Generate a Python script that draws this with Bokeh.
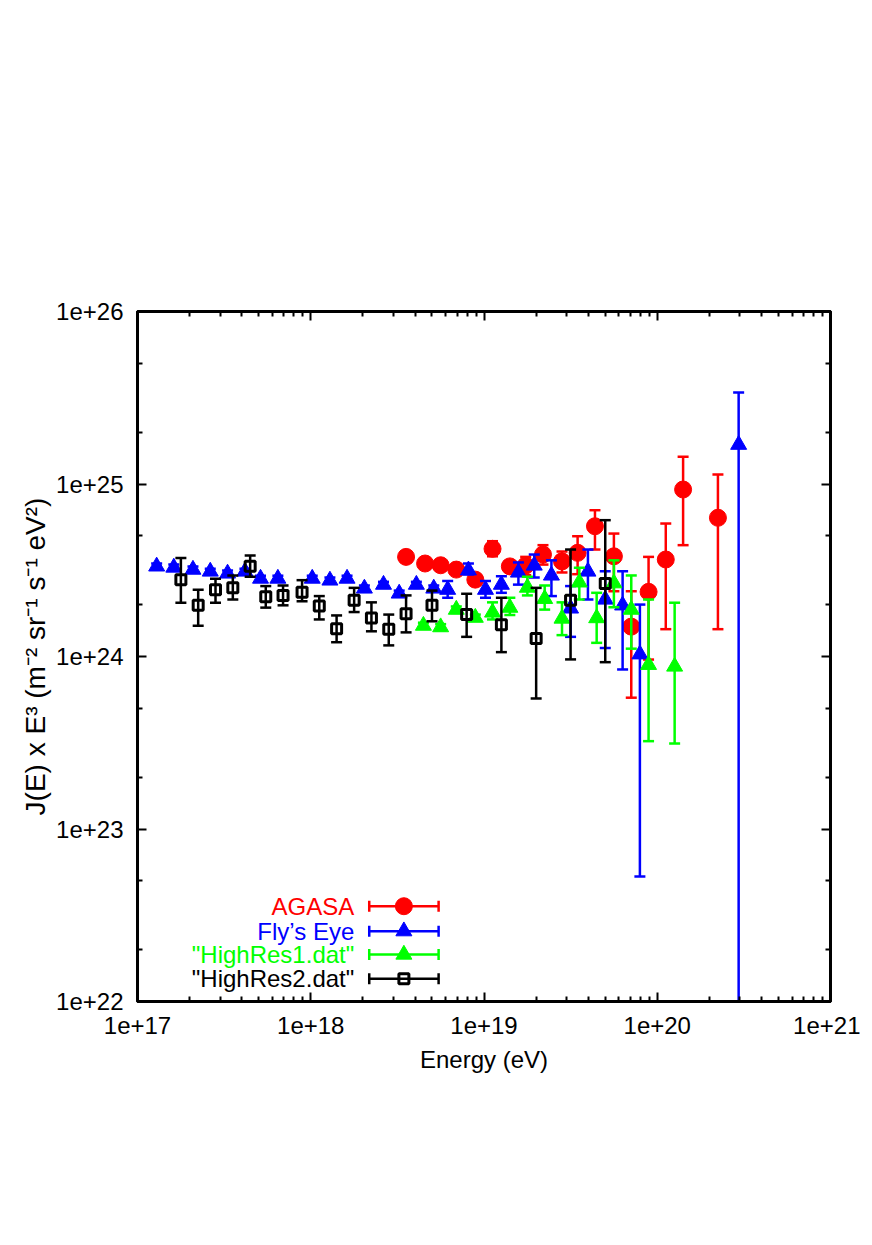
import math
from bokeh.plotting import figure
from bokeh.models import LogAxis, FixedTicker, CustomJSTickFormatter, Range1d, ColumnDataSource
from bokeh.core.properties import value
from bokeh.embed import file_html
from bokeh.resources import INLINE

# ---------------- data ----------------
agasa_E = [3.55e18, 4.57e18, 5.62e18, 6.92e18, 8.91e18, 1.12e19, 1.41e19, 1.74e19, 2.19e19,
           2.82e19, 3.47e19, 4.37e19, 5.62e19, 7.08e19, 8.91e19, 1.12e20, 1.41e20, 2.24e20]
agasa_J = [3.78e24, 3.46e24, 3.38e24, 3.19e24, 2.79e24, 4.21e24, 3.33e24, 3.37e24, 3.90e24,
           3.56e24, 3.99e24, 5.69e24, 3.81e24, 1.49e24, 2.37e24, 3.65e24, 9.29e24, 6.37e24]
agasa_hi = [3.97e24, 3.63e24, 3.55e24, 3.35e24, 2.93e24, 4.66e24, 3.56e24, 3.78e24, 4.42e24,
            4.06e24, 4.98e24, 7.05e24, 5.16e24, 2.39e24, 3.78e24, 5.90e24, 1.44e25, 1.135e25]
agasa_lo = [3.59e24, 3.29e24, 3.21e24, 3.03e24, 2.65e24, 3.81e24, 3.10e24, 2.96e24, 3.41e24,
            3.07e24, 3.00e24, 4.17e24, 2.39e24, 5.77e23, 9.60e23, 1.44e24, 4.42e24, 1.44e24]

fly_E = [1.29e17, 1.62e17, 2.09e17, 2.63e17, 3.31e17, 4.17e17, 5.13e17, 6.46e17, 1.02e18,
         1.29e18, 1.62e18, 2.04e18, 2.63e18, 3.24e18, 4.07e18, 5.13e18, 6.17e18, 8.13e18,
         1.02e19, 1.26e19, 1.58e19, 1.95e19, 2.45e19, 3.16e19, 3.98e19, 5.01e19, 6.31e19,
         7.94e19, 2.95e20]
fly_J = [3.33e24, 3.28e24, 3.19e24, 3.11e24, 3.03e24, 3.11e24, 2.83e24, 2.83e24, 2.83e24,
         2.76e24, 2.83e24, 2.48e24, 2.61e24, 2.32e24, 2.61e24, 2.48e24, 2.44e24, 3.16e24,
         2.44e24, 2.61e24, 3.07e24, 3.37e24, 2.95e24, 1.90e24, 3.11e24, 2.14e24, 1.98e24,
         1.03e24, 1.69e25]
fly_hi = [3.46e24, 3.41e24, 3.32e24, 3.23e24, 3.15e24, 3.23e24, 2.94e24, 2.94e24, 2.94e24,
          2.87e24, 2.94e24, 2.58e24, 2.71e24, 2.41e24, 2.71e24, 2.58e24, 2.74e24, 3.46e24,
          2.74e24, 2.92e24, 3.51e24, 3.90e24, 3.61e24, 2.56e24, 4.17e24, 3.12e24, 3.12e24,
          2.00e24, 3.39e25]
fly_lo = [3.20e24, 3.15e24, 3.06e24, 2.99e24, 2.91e24, 2.99e24, 2.72e24, 2.72e24, 2.72e24,
          2.65e24, 2.72e24, 2.38e24, 2.51e24, 2.23e24, 2.51e24, 2.38e24, 2.19e24, 2.99e24,
          2.19e24, 2.34e24, 2.61e24, 2.87e24, 2.24e24, 1.30e24, 2.14e24, 1.12e24, 8.41e23,
          5.31e22, 1.0e21]

hr1_E = [4.47e18, 5.62e18, 6.92e18, 8.91e18, 1.12e19, 1.41e19, 1.78e19, 2.24e19, 2.82e19,
         3.55e19, 4.47e19, 5.62e19, 7.08e19, 8.91e19, 1.26e20]
hr1_J = [1.51e24, 1.48e24, 1.87e24, 1.68e24, 1.80e24, 1.92e24, 2.51e24, 2.16e24, 1.66e24,
         2.69e24, 1.67e24, 2.66e24, 1.87e24, 8.95e23, 8.75e23]
hr1_hi = [1.57e24, 1.54e24, 1.95e24, 1.75e24, 2.06e24, 2.19e24, 2.90e24, 2.58e24, 2.06e24,
          3.27e24, 2.34e24, 3.61e24, 2.95e24, 2.14e24, 2.05e24]
hr1_lo = [1.45e24, 1.42e24, 1.79e24, 1.61e24, 1.64e24, 1.74e24, 2.26e24, 1.87e24, 1.33e24,
          2.14e24, 1.20e24, 1.93e24, 1.11e24, 3.23e23, 3.13e23]

hr2_E = [1.78e17, 2.24e17, 2.82e17, 3.55e17, 4.47e17, 5.50e17, 6.92e17, 8.91e17, 1.12e18,
         1.41e18, 1.78e18, 2.24e18, 2.82e18, 3.55e18, 5.01e18, 7.94e18, 1.26e19, 2.00e19,
         3.16e19, 5.01e19]
hr2_J = [2.79e24, 1.98e24, 2.44e24, 2.50e24, 3.34e24, 2.22e24, 2.26e24, 2.36e24, 1.96e24,
         1.45e24, 2.12e24, 1.67e24, 1.44e24, 1.77e24, 1.98e24, 1.75e24, 1.53e24, 1.27e24,
         2.12e24, 2.65e24]
hr2_hi = [3.73e24, 2.44e24, 2.82e24, 2.95e24, 3.85e24, 2.56e24, 2.58e24, 2.77e24, 2.24e24,
          1.73e24, 2.50e24, 2.06e24, 1.75e24, 2.26e24, 2.41e24, 2.31e24, 2.19e24, 2.50e24,
          4.17e24, 6.17e24]
hr2_lo = [2.05e24, 1.51e24, 2.05e24, 2.14e24, 2.90e24, 1.92e24, 1.98e24, 2.09e24, 1.64e24,
          1.21e24, 1.81e24, 1.40e24, 1.16e24, 1.38e24, 1.60e24, 1.30e24, 1.06e24, 5.71e23,
          9.62e23, 9.27e23]

series_names = ["AGASA", "Fly\u2019s Eye", "\"HighRes1.dat\"", "\"HighRes2.dat\""]

x_tick_values = [1e17, 1e18, 1e19, 1e20, 1e21]
x_tick_labels = ["1e+17", "1e+18", "1e+19", "1e+20", "1e+21"]
y_tick_values = [1e22, 1e23, 1e24, 1e25, 1e26]
y_tick_labels = ["1e+22", "1e+23", "1e+24", "1e+25", "1e+26"]

x_label = "Energy (eV)"
y_label = "J(E) x E\u00b3 (m\u207b\u00b2 sr\u207b\u00b9 s\u207b\u00b9 eV\u00b2)"

# ---------------- styles ----------------
FONT = "Liberation Sans"
FS = "24px"
FS_YLABEL = "28px"
styles = [
    dict(color="#ff0000", marker="circle", size=17, fill=True, lw=1),
    dict(color="#0000ff", marker="triangle", size=16, fill=True, lw=1),
    dict(color="#00ff00", marker="triangle", size=16, fill=True, lw=1),
    dict(color="#000000", marker="square", size=10, fill=False, lw=3),
]
BAR_W = 2.5
CAP = 11

X0, X1 = 1e17, 1e21
Y0, Y1 = 1e22, 1e26

p = figure(frame_width=693, frame_height=690,
           x_axis_type="log", y_axis_type="log",
           x_range=Range1d(X0, X1), y_range=Range1d(Y0, Y1),
           output_backend="svg", toolbar_location=None,
           min_border_left=137, min_border_right=30,
           min_border_top=311, min_border_bottom=220,
           background_fill_color="white", border_fill_color="white")
p.xgrid.visible = False
p.ygrid.visible = False
p.outline_line_color = "black"
p.outline_line_width = 3

fmt_code = """
const k = Math.round(Math.log10(tick));
for (let i = 0; i < vals.length; i++) {
  if (Math.round(Math.log10(vals[i])) == k) { return labels[i]; }
}
return "";
"""
x_minor = [m * 10.0 ** e for e in range(17, 21) for m in range(2, 10)]
y_minor = [m * 10.0 ** e for e in range(22, 26) for m in (2, 5)]


def style_axis(ax, show_labels):
    ax.axis_line_width = 3
    ax.axis_line_color = "black"
    ax.major_tick_in = 9
    ax.major_tick_out = 0
    ax.minor_tick_in = 5
    ax.minor_tick_out = 0
    ax.major_tick_line_width = 2
    ax.minor_tick_line_width = 2
    ax.major_label_text_font = FONT
    ax.major_label_text_font_size = FS
    ax.major_label_text_color = "black"
    ax.axis_label_text_font = FONT
    ax.axis_label_text_font_size = FS
    ax.axis_label_text_font_style = "normal"
    ax.axis_label_text_color = "black"
    if not show_labels:
        ax.formatter = CustomJSTickFormatter(code="return '';")


xa = p.xaxis[0]
xa.ticker = FixedTicker(ticks=x_tick_values, minor_ticks=x_minor)
xa.formatter = CustomJSTickFormatter(args=dict(vals=x_tick_values, labels=x_tick_labels), code=fmt_code)
style_axis(xa, True)
xa.major_label_standoff = 15
xa.axis_label = x_label
xa.axis_label_standoff = 9

ya = p.yaxis[0]
ya.ticker = FixedTicker(ticks=y_tick_values, minor_ticks=y_minor)
ya.formatter = CustomJSTickFormatter(args=dict(vals=y_tick_values, labels=y_tick_labels), code=fmt_code)
style_axis(ya, True)
ya.major_label_standoff = 14
ya.axis_label = y_label
ya.axis_label_text_font_size = FS_YLABEL
ya.axis_label_standoff = 2

top = LogAxis(ticker=FixedTicker(ticks=x_tick_values, minor_ticks=x_minor))
style_axis(top, False)
top.major_label_standoff = 0
p.add_layout(top, "above")
right = LogAxis(ticker=FixedTicker(ticks=y_tick_values, minor_ticks=y_minor))
style_axis(right, False)
right.major_label_standoff = 0
p.add_layout(right, "right")

# ---------------- data series ----------------
all_series = [
    (agasa_E, agasa_J, agasa_lo, agasa_hi),
    (fly_E, fly_J, fly_lo, fly_hi),
    (hr1_E, hr1_J, hr1_lo, hr1_hi),
    (hr2_E, hr2_J, hr2_lo, hr2_hi),
]

for (E, J, lo, hi), st in zip(all_series, styles):
    c = st["color"]
    src = ColumnDataSource(dict(x=E, y=J, lo=lo, hi=hi))
    p.segment(x0="x", y0="lo", x1="x", y1="hi", source=src, line_color=c, line_width=BAR_W)
    p.scatter(x="x", y="lo", source=src, marker="dash", size=CAP, line_color=c, line_width=BAR_W)
    p.scatter(x="x", y="hi", source=src, marker="dash", size=CAP, line_color=c, line_width=BAR_W)
    p.scatter(x="x", y="y", source=src, marker=st["marker"], size=st["size"],
              fill_color=c if st["fill"] else None, line_color=c, line_width=st["lw"])

# ---------------- key (gnuplot style: text, then sample) ----------------
def fx(f):
    return 10 ** (math.log10(X0) + f * (math.log10(X1) - math.log10(X0)))


def fy(f):
    return 10 ** (math.log10(Y0) + f * (math.log10(Y1) - math.log10(Y0)))


key_text_fx = 0.3128
key_x0_fx, key_x1_fx, key_mark_fx = 0.3344, 0.4345, 0.3844
key_rows_fy = [0.1381, 0.1019, 0.0681, 0.0329]

for name, st, rf in zip(series_names, styles, key_rows_fy):
    c = st["color"]
    yy = fy(rf)
    p.text(x=[fx(key_text_fx)], y=[yy], text=[name], text_align="right", text_baseline="middle",
           text_font=value(FONT), text_font_size=FS, text_color=c)
    p.segment(x0=[fx(key_x0_fx)], y0=[yy], x1=[fx(key_x1_fx)], y1=[yy], line_color=c, line_width=BAR_W)
    p.scatter(x=[fx(key_x0_fx), fx(key_x1_fx)], y=[yy, yy], marker="dash", angle=math.pi / 2,
              size=CAP, line_color=c, line_width=BAR_W)
    p.scatter(x=[fx(key_mark_fx)], y=[yy], marker=st["marker"], size=st["size"],
              fill_color=c if st["fill"] else None, line_color=c, line_width=st["lw"])

open("out.html", "w").write(file_html(p, INLINE))
